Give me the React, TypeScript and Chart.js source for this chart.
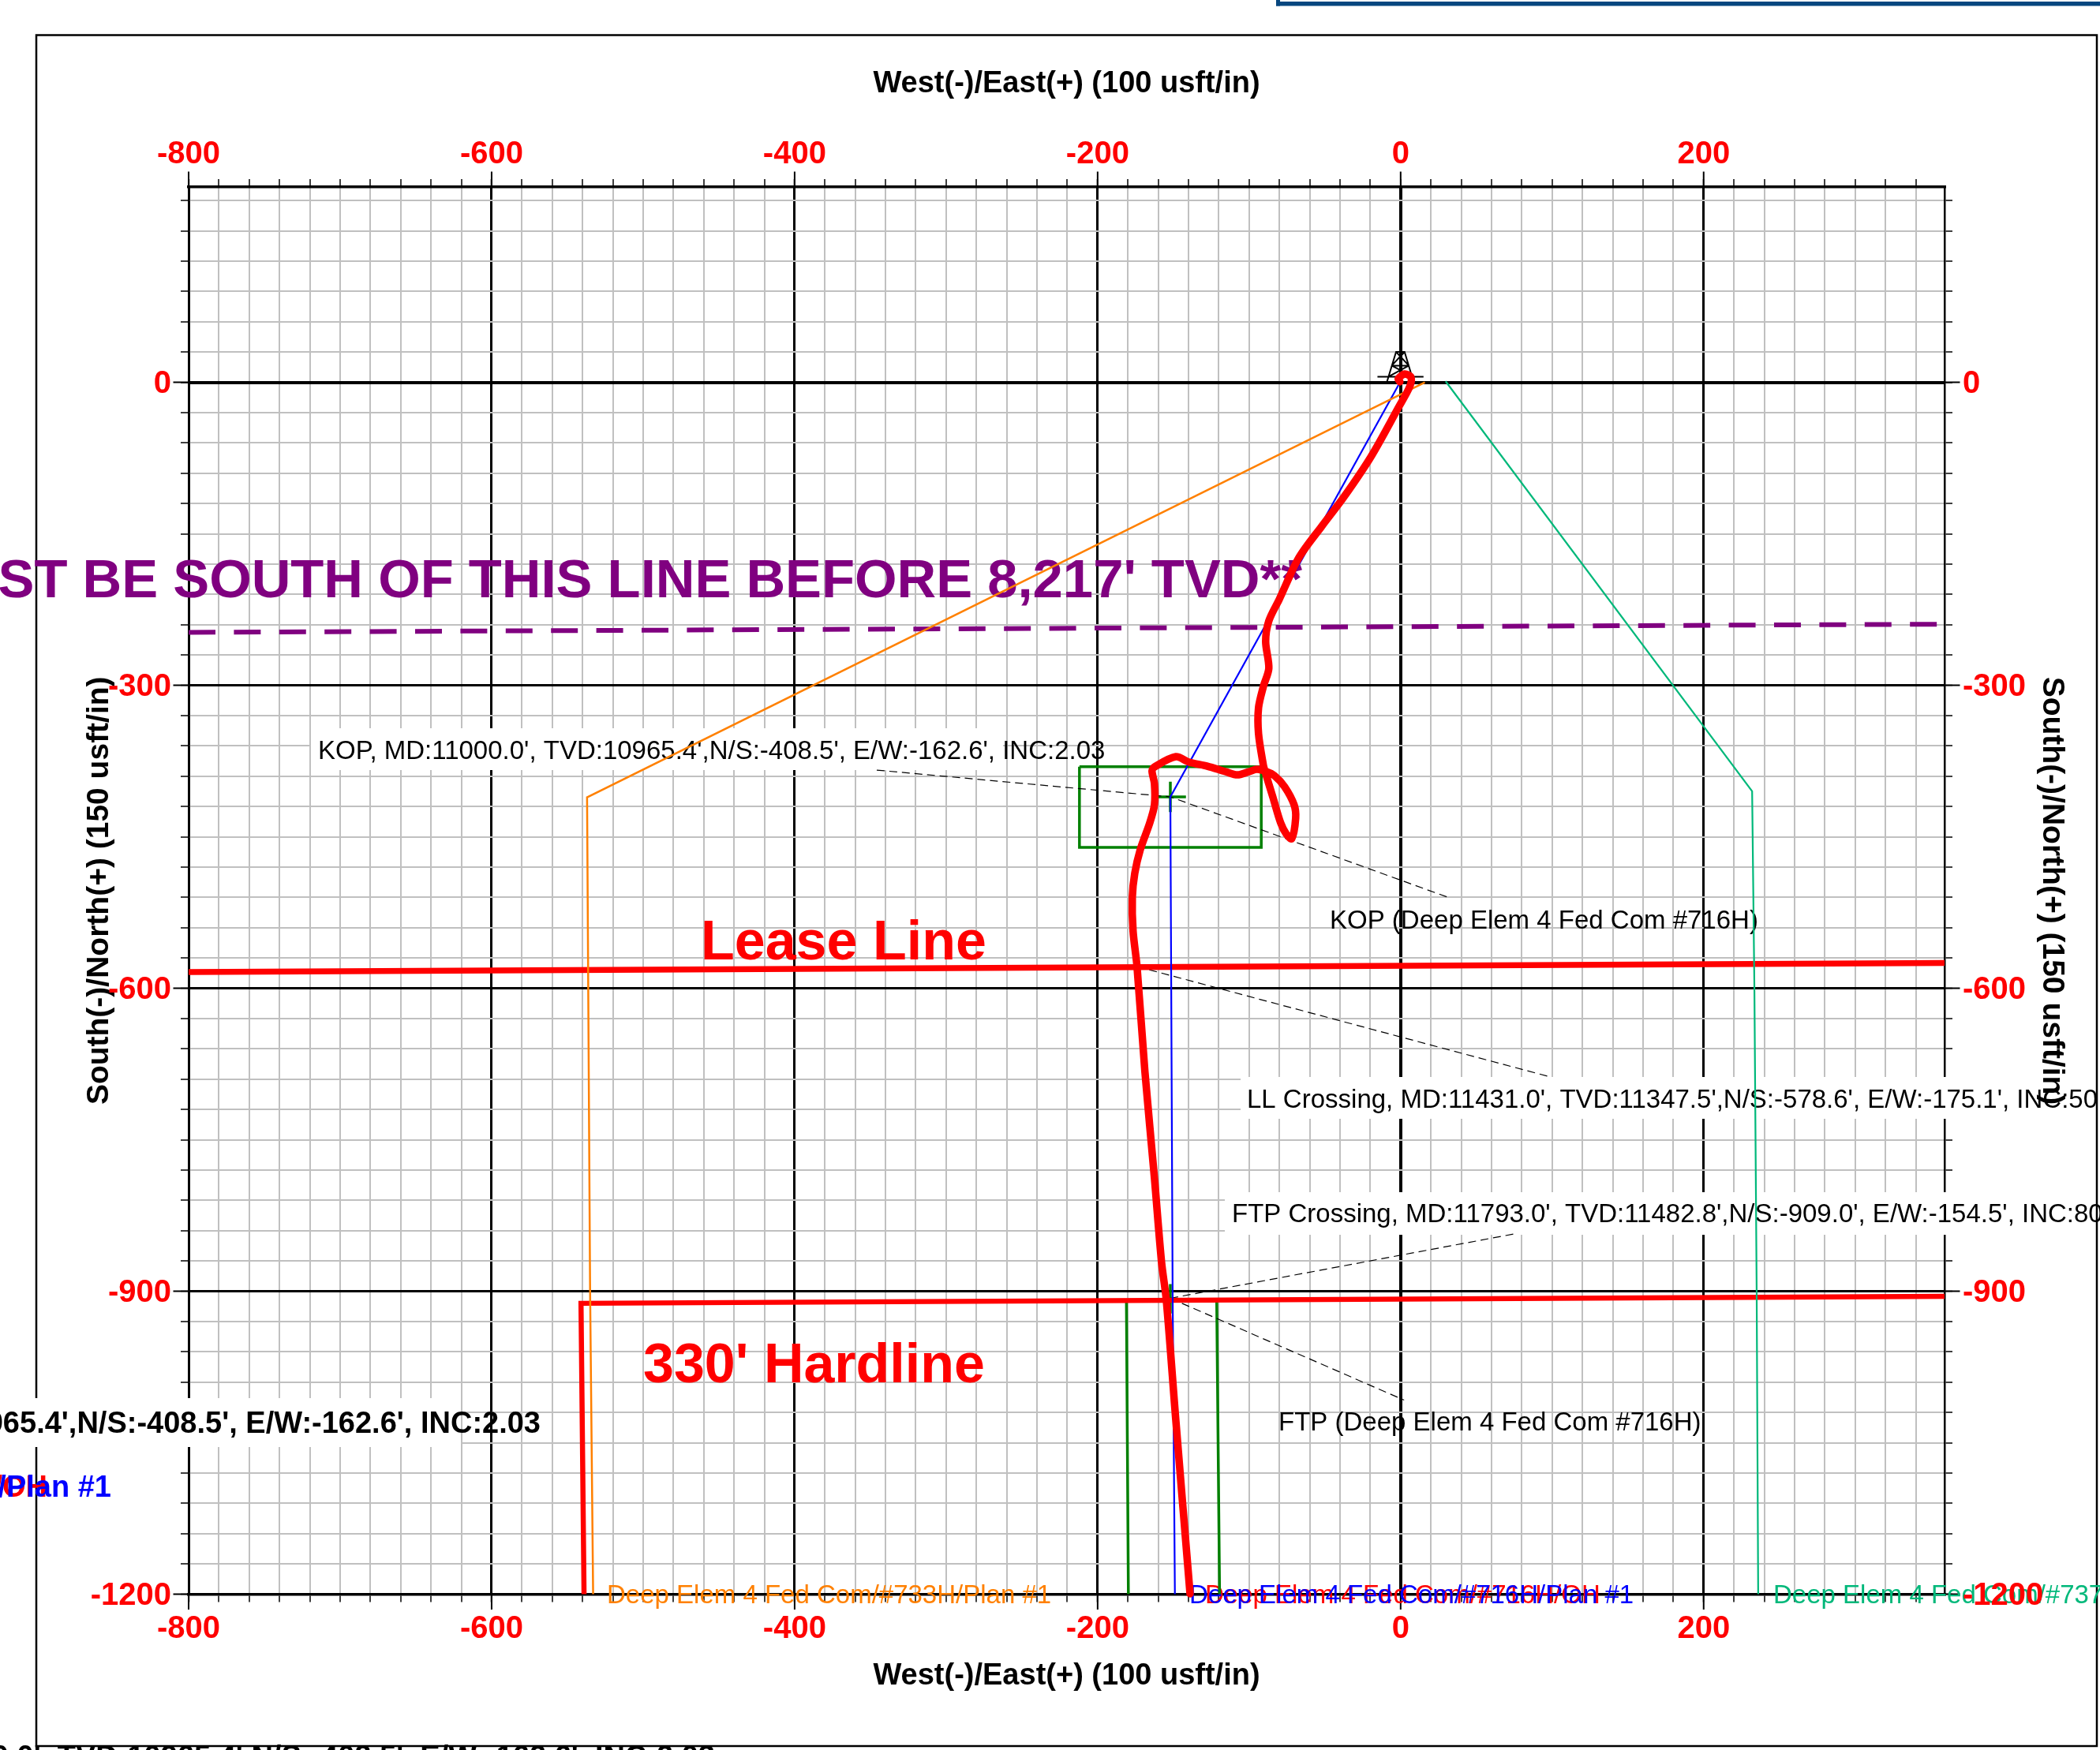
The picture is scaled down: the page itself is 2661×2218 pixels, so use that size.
import React, { useEffect, useRef } from "react";
import { Chart, registerables } from "chart.js";

Chart.register(...registerables);

const FONT = '"Liberation Sans"';

const xMajorTicks = [-800, -600, -400, -200, 0, 200];
const yMajorTicks = [0, -300, -600, -900, -1200];
const X_MIN = -800;
const X_MAX = 359;
const Y_MIN = -1200;
const Y_MAX = 193.4;

const wellX = [-0.5, -1.6, 2.6, 6.8, 6, -1.6, -19.3, -37.5, -52.1, -67.2, -80.2, -87, -89.1, -87, -90.6, -93.8, -93.8, -90.6, -89.6, -84.4, -79.2, -75.5, -71.9, -69.3, -70.3, -76.6, -83.3, -88.5, -94.8, -100, -107.8, -115.6, -127.6, -139.6, -148.4, -162.5, -164.1, -162.5, -162.5, -165.6, -171.9, -175.5, -177.1, -176.6, -174, -168.8, -162.5, -157.8, -154.7, -148.4, -139];
const wellY = [0.5, 3.5, 8.2, 5.1, -4.3, -25.4, -73, -113.7, -142.6, -173.8, -215.2, -236.3, -256.6, -283.2, -301.2, -322.3, -348, -379.3, -384.8, -410.5, -436.3, -447.3, -451.9, -431.6, -418.4, -400.4, -389.5, -385.5, -383.2, -385.5, -388.7, -385.5, -380.1, -376.2, -370.7, -380.9, -384.8, -397.3, -418.4, -436.3, -462.9, -486.3, -509.8, -543.4, -578.5, -682.4, -787.9, -871.5, -908.2, -1027.7, -1199.6];

const planBlueX = [-1, -152, -150.5, -149];
const planBlueY = [-1.5, -410.5, -900, -1200];
const planOrangeX = [16, -537, -535, -533];
const planOrangeY = [0, -411, -900, -1200];
const planTealX = [29.7, 232, 233.5, 235, 236];
const planTealY = [1, -405, -600, -900, -1200];

const leaseX = [-800, 359];
const leaseY = [-584, -575];
const hardlineX = [-539, -541, 359];
const hardlineY = [-1200, -912, -905];
const limitX = [-800, 359];
const limitY = [-247.6, -239.5];

const greenX = [-212, -92, -92, -212, -212, null, -162.6, -141.7, null, -152, -152, null, -179.7, -181, -121.4, -119.5, null, -152, -152, null, -162.6, -141.7];
const greenY = [-380.6, -380.6, -460.6, -460.6, -380.6, null, -410.5, -410.5, null, -395.5, -425.5, null, -1200, -909.5, -909.5, -1200, null, -893, -922, null, -909.5, -909.5];

const leaderX = [-345.8, -152, 32.3, null, -174, 99, null, -152, 74.5, null, -152, 2.3];
const leaderY = [-384, -410.5, -510.5, null, -578.5, -687.9, null, -907, -843.4, null, -907, -1007.8];

const rigX = [-15.3, 15.1, null, -9.2, -3, 2.6, 8.7, null, -8, 5.4, null, -5.9, 8, null, -5.9, 5.4, null, -5.9, 2.6, null, 5.4, -3];
const rigY = [5.6, 5.6, null, -0.4, 30.1, 30.1, -0.4, null, 5.6, 16.5, null, 16.5, 5.6, null, 16.5, 16.5, null, 16.5, 30.1, null, 16.5, 30.1];

const xTitle = "West(-)/East(+) (100 usft/in)";
const yTitle = "South(-)/North(+) (150 usft/in)";

const kopText = "KOP, MD:11000.0', TVD:10965.4',N/S:-408.5', E/W:-162.6', INC:2.03";
const llText = "LL Crossing, MD:11431.0', TVD:11347.5',N/S:-578.6', E/W:-175.1', INC:50.00";
const ftpText = "FTP Crossing, MD:11793.0', TVD:11482.8',N/S:-909.0', E/W:-154.5', INC:80.00";
const purpleText = "MUST BE SOUTH OF THIS LINE BEFORE 8,217' TVD**";
const labelOrange = "Deep Elem 4 Fed Com/#733H/Plan #1";
const labelTeal = "Deep Elem 4 Fed Com/#737H/Plan #1";
const labelBlue = "Deep Elem 4 Fed Com/#716H/Plan #1";
const labelRed = "Deep Elem 4 Fed Com/#716H/OH";

const pts = (xs: (number | null)[], ys: (number | null)[]) => xs.map((x, i) => ({ x, y: ys[i] }));

const line = (label: string, xs: any[], ys: any[], color: string, width: number, extra: any = {}) => ({
  label,
  data: pts(xs, ys),
  borderColor: color,
  borderWidth: width,
  showLine: true,
  pointRadius: 0,
  tension: 0,
  spanGaps: false,
  clip: false,
  ...extra,
});

const boxes = [
  [394, 923, 877, 53],
  [1572, 1365, 968, 53],
  [1552, 1511, 985, 54],
  [0, 1772, 584, 62],
];

const n33 = `33px ${FONT}`;
const b38 = `bold 38px ${FONT}`;
const b70 = `bold 70px ${FONT}`;
const bPurple = `bold 68.8px ${FONT}`;
const texts: [string, number, number, string, string, CanvasTextAlign][] = [
  [purpleText, 1650, 757, bPurple, "#800080", "right"],
  ["Lease Line", 888, 1216, b70, "#ff0000", "left"],
  ["330' Hardline", 815, 1752, b70, "#ff0000", "left"],
  [kopText, 403, 962, n33, "#000000", "left"],
  ["KOP (Deep Elem 4 Fed Com #716H)", 1685, 1177, n33, "#000000", "left"],
  [llText, 1580, 1404, n33, "#000000", "left"],
  [ftpText, 1561, 1549, n33, "#000000", "left"],
  ["FTP (Deep Elem 4 Fed Com #716H)", 1620, 1813, n33, "#000000", "left"],
  [kopText, 685, 1816, b38, "#000000", "right"],
  [labelRed, 60, 1897, b38, "#ff0000", "right"],
  [labelBlue, 141, 1897, b38, "#0000ff", "right"],
  [kopText, 906, 2239, b38, "#000000", "right"],
  [labelOrange, 769, 2032, n33, "#ff8000", "left"],
  [labelRed, 1527, 2032, n33, "#ff0000", "left"],
  [labelBlue, 1507, 2032, n33, "#0000ff", "left"],
  [labelTeal, 2247, 2032, n33, "#00b87a", "left"],
];

const pagePlugin = {
  id: "page",
  beforeDraw(chart: any) {
    const c = chart.ctx;
    c.save();
    c.fillStyle = "#ffffff";
    c.fillRect(0, 0, chart.width, chart.height);
    c.fillStyle = "#07477f";
    c.fillRect(1617, 2, 1044, 5.5);
    c.fillRect(1617, 0, 5, 7.5);
    c.strokeStyle = "#000000";
    c.lineWidth = 2.5;
    c.strokeRect(46, 44.5, 2611, 2168.5);
    c.restore();
  },
  beforeDatasetsDraw(chart: any) {
    const c = chart.ctx;
    const { left, right, top, bottom } = chart.chartArea;
    c.save();
    c.strokeStyle = "#000000";
    c.lineWidth = 2;
    c.beginPath();
    xMajorTicks.forEach((v) => {
      const p = chart.scales.x.getPixelForValue(v);
      c.moveTo(p, top);
      c.lineTo(p, top - 19.5);
      c.moveTo(p, bottom);
      c.lineTo(p, bottom + 19.5);
    });
    yMajorTicks.forEach((v) => {
      const p = chart.scales.y.getPixelForValue(v);
      c.moveTo(left, p);
      c.lineTo(left - 19.5, p);
      c.moveTo(right, p);
      c.lineTo(right + 19.5, p);
    });
    c.stroke();
    c.fillStyle = "#ffffff";
    boxes.forEach(([x, y, w, h]) => c.fillRect(x, y, w, h));
    c.textBaseline = "alphabetic";
    texts.forEach(([t, x, y, font, color, align]) => {
      c.font = font;
      c.fillStyle = color;
      c.textAlign = align;
      c.fillText(t, x, y);
    });
    c.restore();
  },
  afterDraw(chart: any) {
    const c = chart.ctx;
    c.save();
    c.translate(2600, 1129);
    c.rotate(Math.PI / 2);
    c.font = `bold 39px ${FONT}`;
    c.fillStyle = "#000000";
    c.textAlign = "center";
    c.textBaseline = "middle";
    c.fillText(yTitle, 0, 0);
    c.restore();
  },
};

const tickFont = { family: FONT, size: 40, weight: "bold" as const };
const xTitleFont = { family: FONT, size: 38, weight: "bold" as const };
const yTitleFont = { family: FONT, size: 39, weight: "bold" as const };

const gridFor = (major: number[], showGrid: boolean) => ({
  display: true,
  drawOnChartArea: showGrid,
  drawTicks: true,
  tickLength: 10,
  tickColor: "#000000",
  tickWidth: 1.5,
  color: (ctx: any) => (major.includes(ctx.tick?.value) ? "#000000" : "#c0c0c0"),
  lineWidth: (ctx: any) => (ctx.tick?.value === 0 ? 4 : major.includes(ctx.tick?.value) ? 3 : 2),
});

const xAxis = (position: string, showGrid: boolean, size: number, padding: number, title: any, borderWidth: number) => ({
  type: "linear",
  position,
  min: X_MIN,
  max: X_MAX,
  afterFit: (s: any) => {
    s.height = size;
  },
  grid: gridFor(xMajorTicks, showGrid),
  border: { display: true, color: "#000000", width: borderWidth },
  ticks: {
    stepSize: 20,
    includeBounds: false,
    autoSkip: false,
    maxRotation: 0,
    padding,
    color: "#ff0000",
    font: tickFont,
    callback: (v: number) => (xMajorTicks.includes(v) ? String(v) : ""),
  },
  title,
});

const yAxis = (position: string, showGrid: boolean, size: number, padding: number, title: any, borderWidth: number, z: number) => ({
  type: "linear",
  position,
  min: Y_MIN,
  max: Y_MAX,
  afterFit: (s: any) => {
    s.width = size;
  },
  grid: gridFor(yMajorTicks, showGrid),
  border: { display: true, color: "#000000", width: borderWidth },
  ticks: {
    stepSize: 30,
    includeBounds: false,
    autoSkip: false,
    padding,
    z,
    labelOffset: 2,
    color: "#ff0000",
    font: tickFont,
    callback: (v: number) => (yMajorTicks.includes(v) ? String(v) : ""),
  },
  title,
});

export default function App() {
  const ref = useRef<HTMLCanvasElement>(null);
  useEffect(() => {
    const chart = new Chart(ref.current as HTMLCanvasElement, {
      type: "scatter",
      plugins: [pagePlugin],
      data: {
        datasets: [
          line("Well", wellX, wellY, "#ff0000", 9.5, { borderCapStyle: "round", borderJoinStyle: "round", tension: 0.3 }),
          line("Plan 737H", planTealX, planTealY, "#00b87a", 2.2),
          line("Plan 733H", planOrangeX, planOrangeY, "#ff8000", 2.5),
          line("Plan 716H", planBlueX, planBlueY, "#0000ff", 2.2),
          line("Lease Line", leaseX, leaseY, "#ff0000", 7.5),
          line("330' Hardline", hardlineX, hardlineY, "#ff0000", 6.5),
          line("Limit", limitX, limitY, "#800080", 6, { borderDash: [34, 23.4] }),
          line("Leaders", leaderX, leaderY, "#000000", 1.2, { borderDash: [10, 6] }),
          line("Target", greenX, greenY, "#008000", 3.5),
          line("Rig", rigX, rigY, "#000000", 2),
        ] as any,
      },
      options: {
        responsive: false,
        maintainAspectRatio: false,
        animation: false,
        events: [],
        layout: { padding: 0 },
        plugins: { legend: { display: false }, tooltip: { enabled: false } },
        scales: {
          x: xAxis("bottom", true, 197.5, 10.5, {
            display: true,
            text: xTitle,
            color: "#000000",
            font: xTitleFont,
            padding: { top: 0, bottom: 71 },
          }, 3.5),
          x2: xAxis("top", false, 237, 7, {
            display: true,
            text: xTitle,
            color: "#000000",
            font: xTitleFont,
            padding: { top: 84, bottom: 0 },
          }, 3.5),
          y: yAxis("left", true, 239, 12, {
            display: true,
            text: yTitle,
            color: "#000000",
            font: yTitleFont,
            padding: { top: 103, bottom: 0 },
          }, 2.5, 0),
          y2: yAxis("right", false, 197, 13, { display: false }, 2.5, 1),
        } as any,
      },
    });
    return () => chart.destroy();
  }, []);
  return (
    <canvas
      ref={ref}
      width={2661}
      height={2218}
      style={{ position: "absolute", left: 0, top: 0, display: "block" }}
    />
  );
}
